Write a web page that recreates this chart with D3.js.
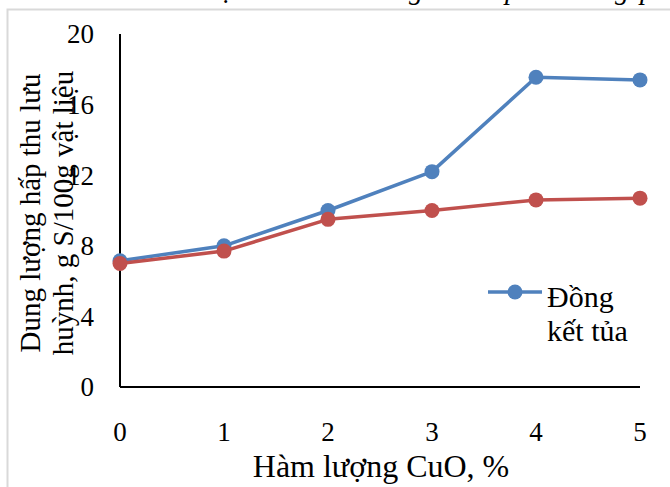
<!DOCTYPE html>
<html>
<head>
<meta charset="utf-8">
<script src="https://cdn.jsdelivr.net/npm/d3@7"></script>
<style>
  html, body { margin: 0; padding: 0; background: #fff; }
  svg { display: block; }
</style>
</head>
<body>
<svg id="chart" width="670" height="487"></svg>
<script>
// ---- data ----
const cuoContent = [0, 1, 2, 3, 4, 5];
const dongKetTua = [7.15, 8.0, 10.0, 12.2, 17.55, 17.4];
const secondSeries = [7.0, 7.7, 9.5, 10.0, 10.6, 10.7];
const yTicks = [0, 4, 8, 12, 16, 20];
const xTicks = [0, 1, 2, 3, 4, 5];
const yTitleLines = ["Dung lượng hấp thu lưu", "huỳnh, g S/100g vật liệu"];
const xTitle = "Hàm lượng CuO, %";
const legendLines = ["Đồng", "kết tủa"];
const topFragments = [["ụ", 220], ["g", 409], ["p", 505], ["g", 615], ["p", 640]];

const FONT = "'Liberation Serif', 'DejaVu Serif', 'Noto Serif', 'Times New Roman', Times, serif";

const svg = d3.select("#chart").attr("font-family", FONT);

// clipped fragment of document text above the chart
const defs = svg.append("defs");
defs.append("clipPath").attr("id", "topclip")
  .append("rect").attr("x", 0).attr("y", 0).attr("width", 670).attr("height", 8.5);
svg.append("g").attr("clip-path", "url(#topclip)")
  .selectAll("text").data(topFragments).join("text")
  .attr("font-family", FONT)
  .attr("x", d => d[1]).attr("y", -1)
  .attr("font-size", 28).attr("font-style", "italic")
  .text(d => d[0]);

// chart frame (light grey border, cropped at right/bottom)
svg.append("path")
  .attr("d", "M7.5,487 L7.5,9.5 L670,9.5")
  .attr("fill", "none").attr("stroke", "#d9d9d9").attr("stroke-width", 2);

const x = d3.scaleLinear().domain([0, 5]).range([120, 640]);
const y = d3.scaleLinear().domain([0, 20]).range([387, 34]);

// axes lines
svg.append("line").attr("x1", x(0)).attr("x2", x(0)).attr("y1", y(20)).attr("y2", y(0))
  .attr("stroke", "#000").attr("stroke-width", 2);
svg.append("line").attr("x1", x(0)).attr("x2", x(5)).attr("y1", y(0)).attr("y2", y(0))
  .attr("stroke", "#000").attr("stroke-width", 2);

// y tick labels
svg.append("g").selectAll("text").data(yTicks).join("text")
  .attr("font-family", FONT)
  .attr("x", 94).attr("y", d => y(d)).attr("dy", "0.35em")
  .attr("text-anchor", "end").attr("font-size", 27)
  .text(d => d);

// x tick labels
svg.append("g").selectAll("text").data(xTicks).join("text")
  .attr("font-family", FONT)
  .attr("x", d => x(d)).attr("y", 441)
  .attr("text-anchor", "middle").attr("font-size", 27)
  .text(d => d);

// axis titles
svg.append("text").attr("font-family", FONT)
  .attr("x", 381).attr("y", 477).attr("text-anchor", "middle")
  .attr("font-size", 32).text(xTitle);
svg.append("g").attr("transform", "translate(0,213) rotate(-90)")
  .selectAll("text").data(yTitleLines).join("text")
  .attr("font-family", FONT)
  .attr("x", 0).attr("y", (d, i) => 40 + i * 33)
  .attr("text-anchor", "middle").attr("font-size", 29)
  .text(d => d);

// series
const line = d3.line().x((d, i) => x(cuoContent[i])).y(d => y(d));
const series = [
  { values: dongKetTua, color: "#4F81BD" },
  { values: secondSeries, color: "#C0504D" }
];
series.forEach(s => {
  svg.append("path").datum(s.values).attr("d", line)
    .attr("fill", "none").attr("stroke", s.color).attr("stroke-width", 3.5)
    .attr("stroke-linejoin", "round");
  svg.append("g").selectAll("circle").data(s.values).join("circle")
    .attr("cx", (d, i) => x(cuoContent[i])).attr("cy", d => y(d))
    .attr("r", 7.5).attr("fill", s.color);
});

// legend
const lg = svg.append("g");
lg.append("line").attr("x1", 488).attr("x2", 542).attr("y1", 292).attr("y2", 292)
  .attr("stroke", "#4F81BD").attr("stroke-width", 3.5);
lg.append("circle").attr("cx", 515).attr("cy", 292).attr("r", 7.5).attr("fill", "#4F81BD");
lg.selectAll("text").data(legendLines).join("text")
  .attr("font-family", FONT)
  .attr("x", 547).attr("y", (d, i) => 307 + i * 34)
  .attr("font-size", 30).text(d => d);
</script>
</body>
</html>
